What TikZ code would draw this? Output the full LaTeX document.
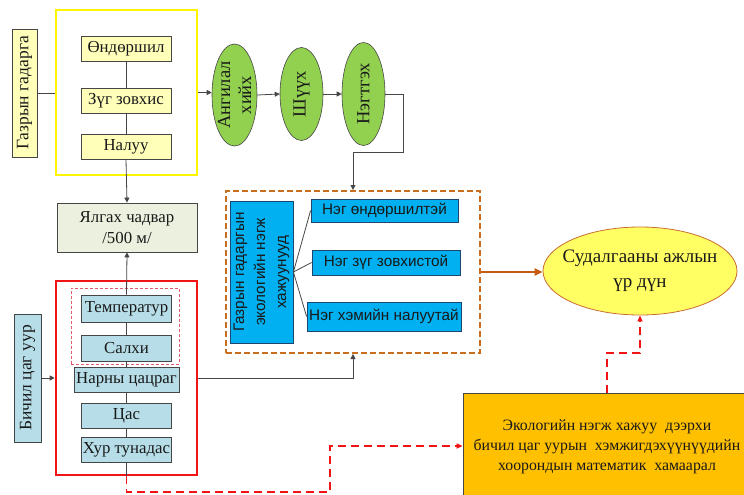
\documentclass[tikz,border=0pt]{standalone}
\usepackage{fontspec}
\usepackage{graphicx}
\setmainfont{Liberation Serif}
\newfontfamily\sansf{Liberation Sans}
\usetikzlibrary{shapes.geometric,arrows.meta}
\definecolor{ylight}{RGB}{255,255,185}
\definecolor{yframe}{RGB}{255,245,0}
\definecolor{boxline}{RGB}{70,70,70}
\definecolor{txt}{RGB}{25,25,25}
\definecolor{ellgreen}{RGB}{146,208,80}
\definecolor{ycfill}{RGB}{235,241,222}
\definecolor{tealfill}{RGB}{183,222,232}
\definecolor{redf}{RGB}{240,20,20}
\definecolor{pinkd}{RGB}{225,90,110}
\definecolor{orangef}{RGB}{200,110,30}
\definecolor{orangea}{RGB}{197,90,17}
\definecolor{bluefill}{RGB}{0,176,240}
\definecolor{blueline}{RGB}{30,70,110}
\definecolor{resfill}{RGB}{255,255,100}
\definecolor{resline}{RGB}{200,110,50}
\definecolor{goldfill}{RGB}{255,192,0}
\begin{document}
\begin{tikzpicture}[x=1pt,y=-1pt,
  box/.style={draw=boxline,line width=0.8pt,inner sep=0pt,text=txt,font=\fontsize{16.8}{19}\selectfont},
  ybox/.style={box,fill=ylight,minimum width=90pt,minimum height=25pt},
  tbox/.style={box,fill=tealfill,minimum width=90pt,minimum height=25pt},
  bbox/.style={draw=blueline,line width=0.8pt,fill=bluefill,inner sep=0pt,text=txt,font=\sansf\fontsize{15.3}{18}\selectfont},
  ell/.style={ellipse,draw=boxline,line width=0.6pt,fill=ellgreen,inner sep=0pt},
  etext/.style={rotate=90,align=center,text=txt,font=\fontsize{18.5}{21}\selectfont},
  conn/.style={draw=boxline,line width=0.8pt},
  arr/.style={conn,-{Triangle[length=5pt,width=5pt]}},
  rdash/.style={draw=redf,line width=1.6pt,dash pattern=on 8pt off 5pt},
  rarr/.style={rdash,-{Triangle[length=6pt,width=5pt]}}
]
\useasboundingbox (0,0) rectangle (744,495);
\fill[white] (0,0) rectangle (744,495);

% top-left group
\node[box,fill=ylight,minimum width=25pt,minimum height=128pt,font=\fontsize{17.5}{19}\selectfont] (gg) at (24.5,93) {\rotatebox{90}{Газрын гадарга}};
\node[draw=yframe,line width=2.6pt,minimum width=141pt,minimum height=165pt] (yf) at (126.5,92.5) {};
\node[ybox] (b1) at (126,48.5) {Өндөршил};
\node[ybox] (b2) at (126,100.5) {Зүг зовхис};
\node[ybox] (b3) at (126,146.5) {Налуу};

% ellipses
\node[ell,minimum width=45pt,minimum height=102pt] (e1) at (234.5,95) {};
\node[etext] (e1t) at (e1) {Ангилал\\хийх};
\node[ell,minimum width=43pt,minimum height=93pt] (e2) at (301.5,94) {};
\node[etext] (e2t) at (e2) {Шүүх};
\node[ell,minimum width=43pt,minimum height=103pt] (e3) at (363.5,94) {};
\node[etext] (e3t) at (e3) {Нэгтгэх};

% Ялгах чадвар
\node[box,fill=ycfill,minimum width=140pt,minimum height=49pt,align=center,font=\fontsize{16.8}{21}\selectfont] (yc) at (127,227.5) {Ялгах чадвар\\/500 м/};

% bottom-left group
\node[draw=redf,line width=2.6pt,minimum width=141pt,minimum height=194pt] (rf) at (126.5,378) {};
\node[draw=pinkd,line width=0.7pt,dash pattern=on 3pt off 2pt,minimum width=108pt,minimum height=76pt] (pf) at (125,326) {};
\node[tbox,minimum height=27pt] (t1) at (126.5,308.5) {Температур};
\node[tbox,minimum height=26pt] (t2) at (126.5,348) {Салхи};
\node[tbox,minimum width=105pt] (t3) at (126.5,379.5) {Нарны цацраг};
\node[tbox] (t4) at (126.5,415.5) {Цас};
\node[tbox] (t5) at (126.5,449.5) {Хур тунадас};
\node[box,fill=tealfill,minimum width=27pt,minimum height=128pt,font=\fontsize{17.5}{19}\selectfont] (bc) at (27.5,378) {\rotatebox{90}{Бичил цаг уур}};

% orange group
\node[draw=orangef,line width=2pt,dash pattern=on 6pt off 3pt,minimum width=254pt,minimum height=162pt] (of) at (353,272) {};
\node[bbox,minimum width=63pt,minimum height=142pt] (bt) at (261.5,272) {\rotatebox{90}{\begin{tabular}{@{}c@{}}Газрын гадаргын\\[3pt]экологийн нэгж\\[3pt]хажуунууд\end{tabular}}};
\node[bbox,minimum width=147pt,minimum height=23pt] (n1) at (384.5,210.5) {Нэг өндөршилтэй};
\node[bbox,minimum width=148pt,minimum height=25pt] (n2) at (386,262.5) {Нэг зүг зовхистой};
\node[bbox,minimum width=154pt,minimum height=29pt] (n3) at (384,316.5) {Нэг хэмийн налуутай};

% result
\node[ellipse,draw=resline,line width=0.8pt,fill=resfill,minimum width=194pt,minimum height=88pt,inner sep=0pt] (res) at (640,271) {};
\node[align=center,text=txt,font=\fontsize{19}{25}\selectfont] (rest) at (res) {Судалгааны ажлын\\үр дүн};

% gold box
\node[box,fill=goldfill,minimum width=288pt,minimum height=108pt,align=center,font=\fontsize{15.8}{20}\selectfont] (gold) at (607,447) {Экологийн нэгж хажуу\ \ дээрхи\\бичил цаг уурын\ \ хэмжигдэхүүнүүдийн\\хоорондын математик\ \ хамаарал};

% coordinates
\coordinate (c1) at (403,152);
\coordinate (d1) at (126.5,492);
\coordinate (d2) at (330,492);
\coordinate (d3) at (330,446);
\coordinate (d4) at (640,353);

% connectors
\draw[conn] (gg.east) -- (gg.east -| yf.west);
\draw[conn] (b1.south) -- (b2.north);
\draw[conn] (b2.south) -- (b3.north);
\draw[arr] (b3.south) -- (yc.north);
\draw[arr] (yf.east) -- (yf.east -| e1.west);
\draw[arr] (e1.east) -- (e2.west);
\draw[arr] (e2.east) -- (e3.west);
\draw[arr] (e3.east) -| (c1) -| (of.north);
\draw[arr] (t1.north) -- (yc.south);
\draw[conn] (t1.south) -- (t2.north);
\draw[conn] (t2.south) -- (t3.north);
\draw[conn] (t3.south) -- (t4.north);
\draw[conn] (t4.south) -- (t5.north);
\draw[conn] (t5.south) -- (rf.south);
\draw[arr] (bc.east) -- (rf.west);
\draw[arr] (rf.east) -| (of.south);
\draw[conn] (bt.east) -- (n1.west);
\draw[conn] (bt.east) -- (n2.west);
\draw[conn] (bt.east) -- (n3.west);
\draw[draw=orangea,line width=2.4pt,-{Triangle[length=8pt,width=7pt]}] (of.east) -- (of.east -| res.west);
\draw[rarr] (rf.south) -- (d1) -- (d2) -- (d3) -- (d3 -| gold.west);
\draw[rarr] (gold.north) |- (d4) -- (res.south);
\end{tikzpicture}
\end{document}
